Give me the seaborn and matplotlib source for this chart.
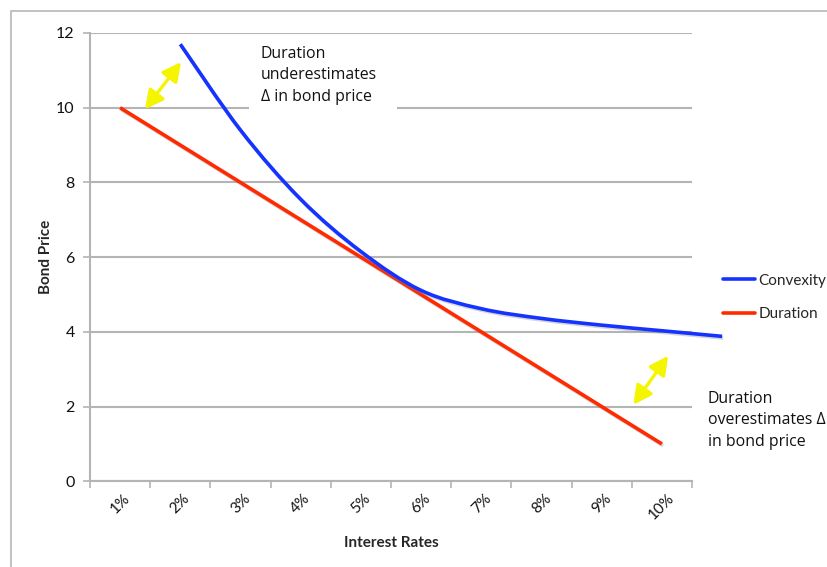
import matplotlib
matplotlib.use("Agg")
import matplotlib.pyplot as plt
import matplotlib.patheffects as pe
from matplotlib.path import Path
from matplotlib.patches import PathPatch, Rectangle, FancyArrowPatch
from matplotlib.lines import Line2D
import numpy as np
import pandas as pd
import seaborn as sns

# ---- data ----
rates = ["1%", "2%", "3%", "4%", "5%", "6%", "7%", "8%", "9%", "10%"]
duration = [10, 9, 8, 7, 6, 5, 4, 3, 2, 1]
# convexity curve is offset one category to the right (2% .. past 10%)
convexity_pos = [1, 2, 3, 4, 5, 6, 7, 8, 9, 10]
convexity = [11.7, 9.4, 7.55, 6.15, 5.11, 4.62, 4.36, 4.18, 4.03, 3.88]
y_ticks = [0, 2, 4, 6, 8, 10, 12]

BLUE = "#1533FF"
RED = "#FF2A00"
GRID = "#B4B4B4"
FONT = ["Lato", "DejaVu Sans"]
NOTE_FONT = ["Open Sans", "DejaVu Sans"]

sns.set_style("white")
plt.rcParams["font.family"] = FONT

fig = plt.figure(figsize=(8.28, 5.67), dpi=100)
ax = fig.add_axes([90 / 828, 1 - 481.3 / 567, (692 - 90) / 828, (481.3 - 33) / 567])

# outer chart frame
fig.add_artist(Rectangle((11 / 828, -0.1), 1.2, 1.1 - 11 / 567,
                         transform=fig.transFigure, fill=False,
                         edgecolor="#B8B8B8", lw=1.2))

shadow = [pe.SimpleLineShadow(offset=(0.8, -1.2), shadow_color="#888888", alpha=0.35),
          pe.Normal()]

df_dur = pd.DataFrame({"pos": np.arange(len(rates)), "price": duration})
sns.lineplot(data=df_dur, x="pos", y="price", ax=ax, color=RED, lw=2.6,
             legend=False, solid_capstyle="butt", path_effects=shadow, zorder=4)

# smooth (Bezier) curve through the convexity points
px = np.array(convexity_pos, float)
py = np.array(convexity, float)
verts = [(px[0], py[0])]
codes = [Path.MOVETO]
n = len(px)
for i in range(n - 1):
    p0 = np.array([px[max(i - 1, 0)], py[max(i - 1, 0)]])
    p1 = np.array([px[i], py[i]])
    p2 = np.array([px[i + 1], py[i + 1]])
    p3 = np.array([px[min(i + 2, n - 1)], py[min(i + 2, n - 1)]])
    c1 = p1 + (p2 - p0) / 6.0
    c2 = p2 - (p3 - p1) / 6.0
    verts += [tuple(c1), tuple(c2), tuple(p2)]
    codes += [Path.CURVE4, Path.CURVE4, Path.CURVE4]
curve = PathPatch(Path(verts, codes), facecolor="none", edgecolor=BLUE, lw=2.6,
                  capstyle="butt", zorder=5, clip_on=False, path_effects=shadow)
ax.add_patch(curve)

ax.set_xlim(-0.5, len(rates) - 0.5)
ax.set_ylim(0, 12)

# grid and axes styling
ax.set_yticks(y_ticks)
ax.set_yticklabels([str(v) for v in y_ticks], fontsize=11.5)
ax.grid(axis="y", color=GRID, lw=1.5, zorder=0)
ax.grid(axis="x", visible=False)
ax.set_axisbelow(True)
ax.set_xticks(np.arange(len(rates)))
ax.set_xticklabels(rates, rotation=45, fontsize=11, ha="center", va="top")
ax.set_xticks(np.arange(-0.5, len(rates), 1.0), minor=True)
ax.tick_params(axis="x", which="major", length=0, pad=7, colors="#111111")
ax.tick_params(axis="x", which="minor", length=5, width=1.2, color=GRID, direction="out")
ax.tick_params(axis="y", which="major", length=5, width=1.2, color=GRID,
               direction="out", pad=6, labelcolor="#111111")
ax.tick_params(axis="y", left=True)
ax.tick_params(axis="x", which="minor", bottom=True)
for s in ["top", "right"]:
    ax.spines[s].set_visible(False)
for s in ["left", "bottom"]:
    ax.spines[s].set_color(GRID)
    ax.spines[s].set_linewidth(1.5)

ax.set_xlabel("Interest Rates", fontsize=11, fontweight="bold", labelpad=10)
ax.set_ylabel("Bond Price", fontsize=11, fontweight="bold", labelpad=2)

# double-headed yellow arrows
for (x0, y0), (x1, y1) in [((0.385, 9.90), (1.04, 11.28)), ((8.50, 1.99), (9.13, 3.42))]:
    arr = FancyArrowPatch((x0, y0), (x1, y1), arrowstyle="<|-|>,head_length=7,head_width=3.6",
                          color="#F5F500", lw=2.4, mutation_scale=1.6, zorder=6,
                          clip_on=False,
                          path_effects=[pe.withSimplePatchShadow(offset=(0.8, -0.8),
                                                                  shadow_rgbFace="#999999",
                                                                  alpha=0.4)])
    ax.add_patch(arr)

# text box behind the upper note (hides the gridline)
ax.add_patch(Rectangle((2.14, 9.55), 2.46, 2.25, facecolor="white", edgecolor="none",
                       zorder=2))
ax.text(2.34, 11.66, "Duration\nunderestimates\nΔ in bond price", fontsize=11.4,
        va="top", ha="left", linespacing=1.45, family=NOTE_FONT, zorder=3,
        color="#111111")
ax.text(9.76, 2.42, "Duration\noverestimates Δ\nin bond price", fontsize=11.4,
        va="top", ha="left", linespacing=1.45, family=NOTE_FONT, clip_on=False,
        color="#111111")

# legend
handles = [Line2D([], [], color=BLUE, lw=2.6), Line2D([], [], color=RED, lw=2.6)]
leg = ax.legend(handles, ["Convexity", "Duration"], loc="center left",
                bbox_to_anchor=(1.052, 0.41), frameon=False, fontsize=11,
                handlelength=2.1, handletextpad=0.2, labelspacing=1.3,
                borderpad=0.0, borderaxespad=0.0)

fig.savefig("out.png", dpi=100)
